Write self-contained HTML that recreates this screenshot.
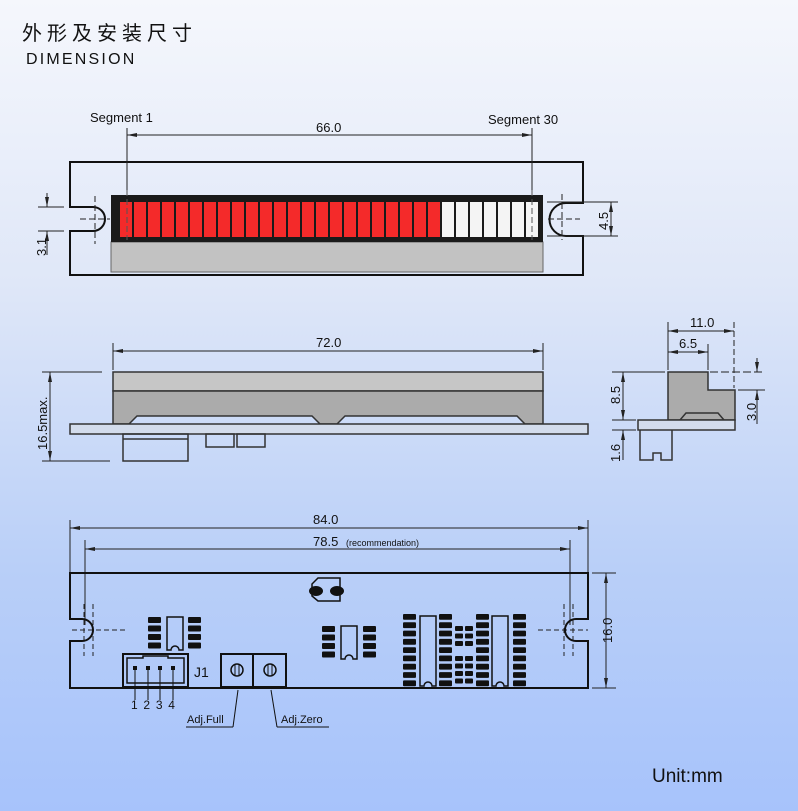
<!DOCTYPE html>
<html><head><meta charset="utf-8"><style>
html,body{margin:0;padding:0}
body{width:798px;height:811px;overflow:hidden;background:linear-gradient(180deg,#f5f7fc 0%,#dfe7f8 35%,#b9cff8 70%,#a7c3fb 100%);font-family:"Liberation Sans","Noto Sans CJK SC",sans-serif}
svg{position:absolute;left:0;top:0}
text{font-family:"Liberation Sans","Noto Sans CJK SC",sans-serif;fill:#111}
</style></head><body>
<svg width="798" height="811" viewBox="0 0 798 811">
<defs>
<marker id="a" viewBox="0 0 10 6" refX="10" refY="3" markerWidth="10" markerHeight="6" orient="auto-start-reverse" markerUnits="userSpaceOnUse"><path d="M0,1 L10,3 L0,5z" fill="#222"/></marker>
</defs>
<text x="22" y="40" font-size="20" letter-spacing="5">外形及安装尺寸</text>
<text x="26" y="64" font-size="16" letter-spacing="2.2">DIMENSION</text>

<!-- TOP VIEW -->
<g stroke="#111" fill="none" stroke-width="2">
<path d="M70,162 H583 V203 H566 A16.5,16.5 0 0 0 566,236 H583 V275 H70 V231 H93 A12,12 0 0 0 93,207 H70 Z"/>
</g>
<rect x="111" y="242" width="432" height="30" fill="#c2c2c2" stroke="#666" stroke-width="1"/>
<rect x="111" y="195" width="432" height="47" fill="#1a1a1a"/>
<g id="segs"></g>
<g stroke="#222" stroke-width="1" fill="none">
<line x1="127" y1="128" x2="127" y2="190"/><line x1="532" y1="128" x2="532" y2="190"/>
<line x1="127" y1="190" x2="127" y2="240" stroke-dasharray="6,3" stroke="#555"/><line x1="532" y1="190" x2="532" y2="240" stroke-dasharray="6,3" stroke="#555"/>
<line x1="127" y1="135" x2="532" y2="135" marker-start="url(#a)" marker-end="url(#a)"/>
<line x1="38" y1="207" x2="64" y2="207"/><line x1="38" y1="231" x2="64" y2="231"/>
<line x1="47" y1="193" x2="47" y2="207" marker-end="url(#a)"/><line x1="47" y1="255" x2="47" y2="231" marker-end="url(#a)"/>
<line x1="547" y1="202" x2="618" y2="202"/><line x1="547" y1="236" x2="618" y2="236"/>
<line x1="611" y1="202" x2="611" y2="236" marker-start="url(#a)" marker-end="url(#a)"/>
<g stroke-dasharray="6,3"><line x1="95" y1="196" x2="95" y2="244"/><line x1="80" y1="219" x2="110" y2="219"/>
<line x1="562" y1="194" x2="562" y2="240"/><line x1="548" y1="219" x2="580" y2="219"/></g>
</g>
<text x="90" y="122" font-size="13">Segment 1</text>
<text x="488" y="124" font-size="13">Segment 30</text>
<text x="316" y="132" font-size="13">66.0</text>
<text transform="translate(46,256) rotate(-90)" font-size="13">3.1</text>
<text transform="translate(608,230) rotate(-90)" font-size="13">4.5</text>

<!-- SIDE VIEW -->
<g stroke="#333" stroke-width="1.5">
<rect x="113" y="372" width="430" height="19" fill="#c6c6c6"/>
<path d="M113,391 H543 V424 H525 L517,416 H345 L337,424 H320 L312,416 H137 L129,424 H113Z" fill="#ababab"/>
<rect x="70" y="424" width="518" height="10" fill="#d3dcec"/>
<rect x="123" y="434" width="65" height="27" fill="none"/><line x1="123" y1="439" x2="188" y2="439"/>
<rect x="206" y="434" width="28" height="13" fill="none"/><rect x="237" y="434" width="28" height="13" fill="none"/>
</g>
<g stroke="#222" stroke-width="1" fill="none">
<line x1="113" y1="343" x2="113" y2="370"/><line x1="543" y1="343" x2="543" y2="370"/>
<line x1="113" y1="351" x2="543" y2="351" marker-start="url(#a)" marker-end="url(#a)"/>
<line x1="42" y1="372" x2="102" y2="372"/><line x1="42" y1="461" x2="110" y2="461"/>
<line x1="50" y1="372" x2="50" y2="461" marker-start="url(#a)" marker-end="url(#a)"/>
</g>
<text x="316" y="347" font-size="13">72.0</text>
<text transform="translate(47,450) rotate(-90)" font-size="13">16.5max.</text>

<!-- END VIEW -->
<g stroke="#333" stroke-width="1.5">
<path d="M668,372 H708 V390 H735 V420 H668Z" fill="#ababab"/>
<path d="M680,420 L686,413 H718 L724,420" fill="none"/>
<rect x="638" y="420" width="97" height="10" fill="#d3dcec"/>
<path d="M640,430 V460 H653 V453 H661 V460 H672 V430" fill="none"/>
</g>
<g stroke="#222" stroke-width="1" fill="none">
<line x1="668" y1="322" x2="668" y2="370"/><line x1="734" y1="322" x2="734" y2="388" stroke-dasharray="6,3"/>
<line x1="708" y1="344" x2="708" y2="370"/>
<line x1="668" y1="331" x2="734" y2="331" marker-start="url(#a)" marker-end="url(#a)"/>
<line x1="668" y1="352" x2="708" y2="352" marker-start="url(#a)" marker-end="url(#a)"/>
<line x1="612" y1="372" x2="665" y2="372"/><line x1="710" y1="372" x2="765" y2="372" stroke-dasharray="8,3"/>
<line x1="738" y1="390" x2="765" y2="390"/>
<line x1="757" y1="358" x2="757" y2="372" marker-end="url(#a)"/><line x1="757" y1="424" x2="757" y2="390" marker-end="url(#a)"/>
<line x1="612" y1="420" x2="636" y2="420"/><line x1="612" y1="430" x2="636" y2="430"/>
<line x1="623" y1="372" x2="623" y2="420" marker-start="url(#a)" marker-end="url(#a)"/>
<line x1="623" y1="460" x2="623" y2="430" marker-end="url(#a)"/>
</g>
<text x="690" y="327" font-size="13">11.0</text>
<text x="679" y="348" font-size="13">6.5</text>
<text transform="translate(620,404) rotate(-90)" font-size="13">8.5</text>
<text transform="translate(620,462) rotate(-90)" font-size="13">1.6</text>
<text transform="translate(756,421) rotate(-90)" font-size="13">3.0</text>

<!-- BOTTOM VIEW -->
<g stroke="#222" stroke-width="1" fill="none">
<line x1="70" y1="520" x2="70" y2="572"/><line x1="588" y1="520" x2="588" y2="572"/>
<line x1="70" y1="528" x2="588" y2="528" marker-start="url(#a)" marker-end="url(#a)"/>
<line x1="85" y1="540" x2="85" y2="625"/><line x1="570" y1="540" x2="570" y2="625"/>
<line x1="85" y1="549" x2="570" y2="549" marker-start="url(#a)" marker-end="url(#a)"/>
<line x1="592" y1="573" x2="616" y2="573"/><line x1="592" y1="688" x2="616" y2="688"/>
<line x1="606" y1="573" x2="606" y2="688" marker-start="url(#a)" marker-end="url(#a)"/>
<g stroke-dasharray="5,3"><line x1="84" y1="604" x2="84" y2="656"/><line x1="93" y1="604" x2="93" y2="656"/>
<line x1="72" y1="630" x2="126" y2="630"/>
<line x1="564" y1="604" x2="564" y2="656"/><line x1="573" y1="604" x2="573" y2="656"/>
<line x1="538" y1="630" x2="588" y2="630"/></g>
</g>
<text x="313" y="524" font-size="13">84.0</text>
<text x="313" y="546" font-size="13">78.5</text><text x="346" y="546" font-size="9">(recommendation)</text>
<text transform="translate(612,643) rotate(-90)" font-size="13">16.0</text>
<path d="M70,573 H588 V619 H576 A11,11 0 0 0 576,641 H588 V688 H70 V641 H82 A11,11 0 0 0 82,619 H70Z" fill="none" stroke="#111" stroke-width="2"/>
<!-- oscillator -->
<path d="M318,578 H340 V601 H318 L312,596 V584Z" fill="none" stroke="#111" stroke-width="1.5"/>
<ellipse cx="316" cy="591" rx="7" ry="5" fill="#111"/><ellipse cx="337" cy="591" rx="7" ry="5" fill="#111"/>
<g id="comps" fill="#111"></g>
<!-- J1 -->
<g stroke="#111" fill="none">
<rect x="123" y="654" width="65" height="33" stroke-width="2"/>
<path d="M127,683 V658 H143 V656 H168 V658 H184 V683Z" stroke-width="1.5"/>
<line x1="135" y1="668" x2="135" y2="700"/><line x1="148" y1="668" x2="148" y2="700"/><line x1="160" y1="668" x2="160" y2="700"/><line x1="173" y1="668" x2="173" y2="700"/>
<rect x="221" y="654" width="32" height="33" stroke-width="2"/><rect x="253" y="654" width="33" height="33" stroke-width="2"/>
<circle cx="237" cy="670" r="6" stroke-width="1.5"/><line x1="235" y1="664" x2="235" y2="676"/><line x1="239" y1="664" x2="239" y2="676"/>
<circle cx="270" cy="670" r="6" stroke-width="1.5"/><line x1="268" y1="664" x2="268" y2="676"/><line x1="272" y1="664" x2="272" y2="676"/>
<line x1="238" y1="690" x2="233" y2="727"/><line x1="186" y1="727" x2="233" y2="727"/>
<line x1="271" y1="690" x2="277" y2="727"/><line x1="277" y1="727" x2="329" y2="727"/>
</g>
<g fill="#111"><rect x="133" y="666" width="4" height="4"/><rect x="146" y="666" width="4" height="4"/><rect x="158" y="666" width="4" height="4"/><rect x="171" y="666" width="4" height="4"/></g>
<text x="194" y="677" font-size="14">J1</text>
<text x="131" y="709" font-size="12" letter-spacing="1.2">1 2 3 4</text>
<text x="187" y="723" font-size="11">Adj.Full</text>
<text x="281" y="723" font-size="11">Adj.Zero</text>

<text x="652" y="782" font-size="19">Unit:mm</text>
</svg>
<script>
var ns="http://www.w3.org/2000/svg";
function el(p,t,a){var e=document.createElementNS(ns,t);for(var k in a)e.setAttribute(k,a[k]);p.appendChild(e);return e;}
var s=document.getElementById('segs');
for(var i=0;i<30;i++){el(s,'rect',{x:120+i*14,y:202,width:12,height:35,fill:i<23?'#f42a2a':'#f4f4f4'});}
var c=document.getElementById('comps');
function pads(x,y0,n,step,w){for(var i=0;i<n;i++)el(c,'rect',{x:x,y:y0+i*step,width:w||13,height:step-2.5,rx:1});}
function body(x,y,w,h){el(c,'path',{d:'M'+x+','+y+' H'+(x+w)+' V'+(y+h)+' H'+(x+w/2+4)+' A4,4 0 0 0 '+(x+w/2-4)+','+(y+h)+' H'+x+' Z',fill:'none',stroke:'#111','stroke-width':1.5});}
pads(148,617,4,8.5);body(167,617,16,33);pads(188,617,4,8.5);
pads(322,626,4,8.5);body(341,626,16,33);pads(363,626,4,8.5);
pads(403,614,9,8.3);body(420,616,16,70);pads(439,614,9,8.3);
pads(476,614,9,8.3);body(492,616,16,70);pads(513,614,9,8.3);
pads(455,626,3,7.5,8);pads(465,626,3,7.5,8);pads(455,656,4,7.5,8);pads(465,656,4,7.5,8);
</script>
</body></html>
